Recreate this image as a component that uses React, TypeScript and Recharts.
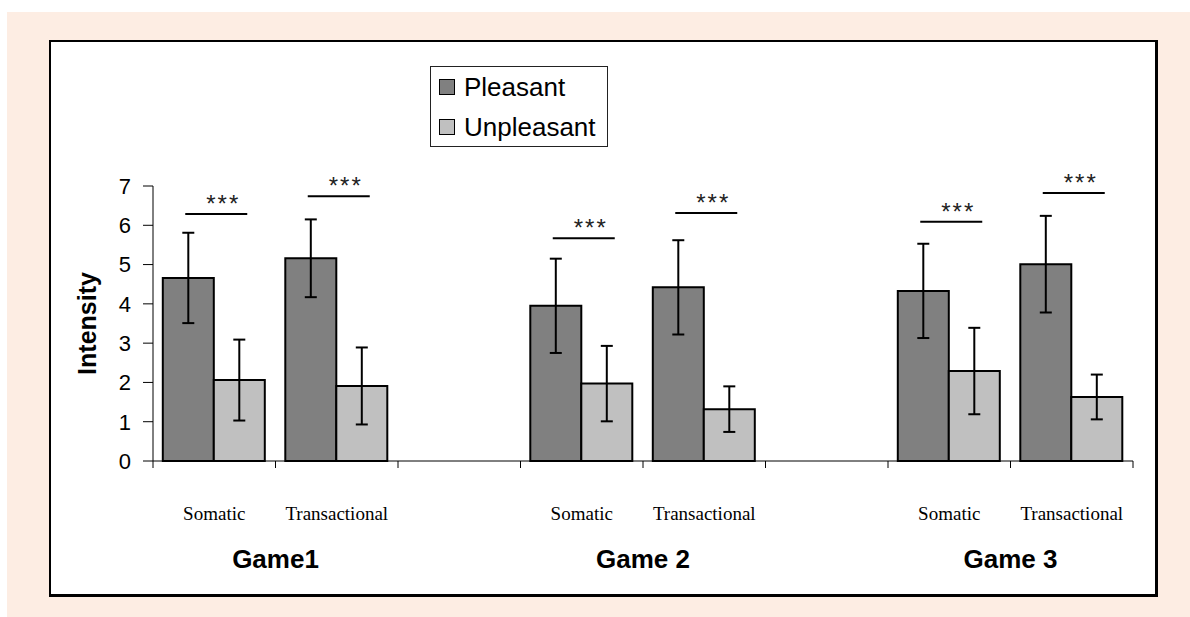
import React from "react";
import {
  ComposedChart,
  Bar,
  Scatter,
  XAxis,
  YAxis,
  ErrorBar,
  Legend,
} from "recharts";

const categories = ["Somatic", "Transactional", "", "Somatic", "Transactional", "", "Somatic", "Transactional"];
const games = ["", "Game1", "", "", "Game 2", "", "", "Game 3"];
const pleasant = [4.66, 5.16, null, 3.95, 4.42, null, 4.33, 5.01];
const pleasantErr = [1.15, 0.99, null, 1.2, 1.2, null, 1.2, 1.23];
const unpleasant = [2.06, 1.91, null, 1.97, 1.32, null, 2.29, 1.63];
const unpleasantErr = [1.03, 0.98, null, 0.96, 0.58, null, 1.1, 0.57];
const significance = [6.29, 6.74, null, 5.67, 6.31, null, 6.09, 6.82];
const sigLabels = ["***", "***", null, "***", "***", null, "***", "***"];

const yTicks = [0, 1, 2, 3, 4, 5, 6, 7];

const COLORS = { pleasant: "#808080", unpleasant: "#C0C0C0" };
const SANS = "'Liberation Sans', Arial, sans-serif";
const SERIF = "'Liberation Serif', 'Times New Roman', serif";

const data = categories.map((cat, i) => ({
  cat,
  game: games[i],
  pleasant: pleasant[i],
  pleasantErr: pleasantErr[i],
  unpleasant: unpleasant[i],
  unpleasantErr: unpleasantErr[i],
  sig: significance[i],
  sigLabel: sigLabels[i],
}));

// category tick: boundary tick marks (Excel style), category name, game name under the group
function CategoryTick(props: any) {
  const { x, y, payload } = props;
  const half = payload.offset || 0;
  const i = payload.index;
  const game = games[i];
  return (
    <g>
      <line x1={x - half} x2={x - half} y1={y} y2={y + 7} stroke="#000" />
      {i === categories.length - 1 && <line x1={x + half} x2={x + half} y1={y} y2={y + 7} stroke="#000" />}
      <text x={x} y={y + 46} dy="0.71em" textAnchor="middle" fontSize={19} fontFamily={SERIF} fill="#000">
        {payload.value}
      </text>
      {game && (
        <text
          x={x - half}
          y={y + 89}
          dy="0.71em"
          textAnchor="middle"
          fontSize={26}
          fontWeight="bold"
          fontFamily={SANS}
          fill="#000"
        >
          {game}
        </text>
      )}
    </g>
  );
}

function SigMark(props: any) {
  const { cx, cy, payload } = props;
  if (payload == null || payload.sig == null || !isFinite(cy)) return <g />;
  return (
    <g>
      <line x1={cx - 29} x2={cx + 33} y1={cy} y2={cy} stroke="#000" strokeWidth={2} />
      <text
        x={cx + 9}
        y={cy - 2}
        textAnchor="middle"
        fontSize={24}
        fill="#222"
        letterSpacing={2}
        fontFamily={SANS}
      >
        {payload.sigLabel}
      </text>
    </g>
  );
}

function LegendBox(props: any) {
  const items = (props.payload || []).filter((p: any) => p.type !== "none");
  return (
    <div
      style={{
        width: 178,
        height: 81,
        border: "1px solid #222",
        background: "#fff",
        boxSizing: "border-box",
        fontFamily: SANS,
        fontSize: 26,
        color: "#000",
      }}
    >
      {items.map((p: any) => (
        <div key={p.value} style={{ display: "flex", alignItems: "center", height: 40, paddingLeft: 8 }}>
          <span
            style={{
              width: 14,
              height: 14,
              background: p.color,
              border: "1.5px solid #000",
              marginRight: 9,
              flexShrink: 0,
            }}
          />
          <span>{p.value}</span>
        </div>
      ))}
    </div>
  );
}

export default function App() {
  return (
    <div style={{ position: "absolute", left: 0, top: 0, width: 1190, height: 617, background: "#fff" }}>
      <div style={{ position: "absolute", left: 7, top: 12, right: 0, bottom: 0, background: "#FDEDE3" }} />
      <div
        style={{
          position: "absolute",
          left: 49,
          top: 40,
          width: 1104,
          height: 552,
          background: "#fff",
          border: "2px solid #000",
          borderRightWidth: 3,
          borderBottomWidth: 3,
        }}
      >
        <ComposedChart
          width={1104}
          height={552}
          data={data}
          margin={{ top: 144, right: 22, bottom: 0, left: 0 }}
          barCategoryGap="8%"
          barGap={0}
          style={{ fontFamily: SANS }}
        >
          <XAxis
            dataKey="cat"
            interval={0}
            height={133}
            axisLine={{ stroke: "#000" }}
            tickLine={false}
            tickSize={0}
            tickMargin={0}
            tick={<CategoryTick />}
          />
          <YAxis
            domain={[0, 7]}
            ticks={yTicks}
            interval={0}
            width={102}
            tickSize={10}
            tickMargin={12}
            axisLine={{ stroke: "#000" }}
            tickLine={{ stroke: "#000" }}
            tick={{ fontSize: 22, fill: "#000" }}
            label={{
              value: "Intensity",
              angle: -90,
              position: "insideLeft",
              offset: 36,
              style: { textAnchor: "middle", fontWeight: "bold", fontSize: 25, fill: "#000" },
            }}
          />
          <Legend
            layout="vertical"
            align="center"
            verticalAlign="middle"
            content={<LegendBox />}
            wrapperStyle={{ left: 379, top: 24, width: 178, height: 81 }}
          />
          <Bar dataKey="pleasant" name="Pleasant" fill={COLORS.pleasant} stroke="#000" strokeWidth={2} isAnimationActive={false}>
            <ErrorBar dataKey="pleasantErr" width={6} strokeWidth={2} stroke="#000" />
          </Bar>
          <Bar dataKey="unpleasant" name="Unpleasant" fill={COLORS.unpleasant} stroke="#000" strokeWidth={2} isAnimationActive={false}>
            <ErrorBar dataKey="unpleasantErr" width={6} strokeWidth={2} stroke="#000" />
          </Bar>
          <Scatter dataKey="sig" legendType="none" shape={<SigMark />} isAnimationActive={false} />
        </ComposedChart>
      </div>
    </div>
  );
}
